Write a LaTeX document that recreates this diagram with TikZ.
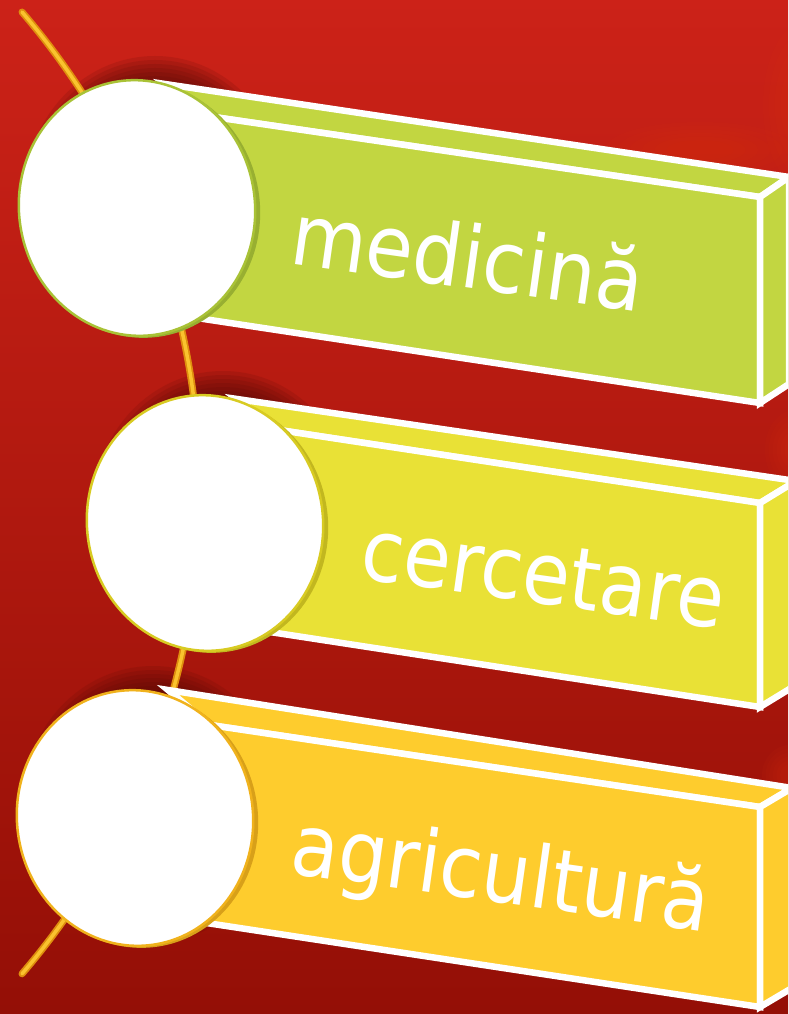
\documentclass[tikz,border=0pt]{standalone}
\usepackage{fontspec}
\usepackage{graphicx}
\setmainfont{DejaVu Sans}
\definecolor{bgtop}{HTML}{CC2218}
\definecolor{bgbot}{HTML}{940F06}
\definecolor{glowred}{HTML}{DA320E}
\definecolor{shadered}{HTML}{4A0804}
\definecolor{wire}{HTML}{DE8E0E}
\definecolor{wirelight}{HTML}{FAC32E}
\definecolor{lime}{HTML}{C2D641}
\definecolor{limerim}{HTML}{A9C236}
\definecolor{lemon}{HTML}{E9E136}
\definecolor{lemonrim}{HTML}{D8CB22}
\definecolor{amber}{HTML}{FECC2D}
\definecolor{amberrim}{HTML}{F0B21C}
\tikzset{
	slab/.style={draw=white, line width=6.5pt, line join=miter},
	boxtext/.style={white, inner sep=0pt, anchor=base west, rotate=-8, font=\fontsize{86}{86}\selectfont}
}
\def\glow(#1,#2)(#3,#4){\foreach \k in {0,...,5}{\fill[glowred, opacity=0.07] (#1,#2) ellipse ({#3*(1-0.13*\k)} and {#4*(1-0.13*\k)});}}
\def\discshadow(#1,#2){\foreach \k in {0,...,6}{\fill[shadered, opacity=0.13] (#1+18,#2-14) ellipse ({130-4*\k} and {138-4*\k});}}
\def\disc(#1,#2)#3{%
	\fill[#3!90!black, rotate around={8:(#1+4,#2+2)}] (#1+4,#2+2) ellipse (119 and 128);
	\filldraw[fill=white, draw=#3, line width=2.5pt, rotate around={8:(#1,#2)}] (#1,#2) ellipse (118 and 128);}

\begin{document}
\begin{tikzpicture}[x=1pt,y=-1pt]
		%%%%% START %%%%%
		
		\clip (0,0) rectangle (788,1014);
		\shade[top color=bgtop, bottom color=bgbot] (0,0) rectangle (788,1014);
		
		% lighter patches on the right
		\glow(808,105)(45,85)
		\glow(700,150)(95,28)
		\glow(795,450)(30,40)
		\glow(790,775)(28,30)
		
		% shadows behind the discs
		\discshadow(137,208)
		\discshadow(205,523)
		\discshadow(135,818)
		
		% golden wire
		\draw[wire, line width=7pt, line cap=round] (22,12) arc[start angle=-40.6, end angle=40.6, radius=739];
		\draw[wirelight, line width=3.5pt, line cap=round] (22,12) arc[start angle=-40.6, end angle=40.6, radius=739];
		
		% green box
		\filldraw[slab, fill=lime] (165,84) -- (789,177) -- (760,197) -- (207,116) -- cycle;
		\filldraw[slab, fill=lime] (207,116) -- (760,197) -- (760,403) -- (197,318) -- cycle;
		\filldraw[slab, fill=lime] (760,197) -- (789,177) -- (789,384) -- (760,403) -- cycle;
		
		% yellow box
		\filldraw[slab, fill=lemon] (237,399) -- (796,481) -- (760,503) -- (279,430) -- cycle;
		\filldraw[slab, fill=lemon] (279,430) -- (760,503) -- (760,707) -- (270,632) -- cycle;
		\filldraw[slab, fill=lemon] (760,503) -- (796,481) -- (796,685) -- (760,707) -- cycle;
		
		% orange box
		\filldraw[slab, fill=amber] (168,690) -- (792,788) -- (760,807) -- (210,725) -- cycle;
		\filldraw[slab, fill=amber] (210,725) -- (760,807) -- (760,1007) -- (200,922) -- cycle;
		\filldraw[slab, fill=amber] (760,807) -- (792,788) -- (792,988) -- (760,1007) -- cycle;
		
		% discs
		\disc(137,208){limerim}
		\disc(205,523){lemonrim}
		\disc(135,818){amberrim}
		
		\node[boxtext] (medicina) at (288,263) {\scalebox{0.9}[1]{medicină}};
		\node[boxtext] (cercetare) at (358,578) {\scalebox{0.9}[1]{cercetare}};
		\node[boxtext] (agricultura) at (288,873) {\scalebox{0.9}[1]{agricultură}};
		
		%%%%% END %%%%%
\end{tikzpicture}
\end{document}
